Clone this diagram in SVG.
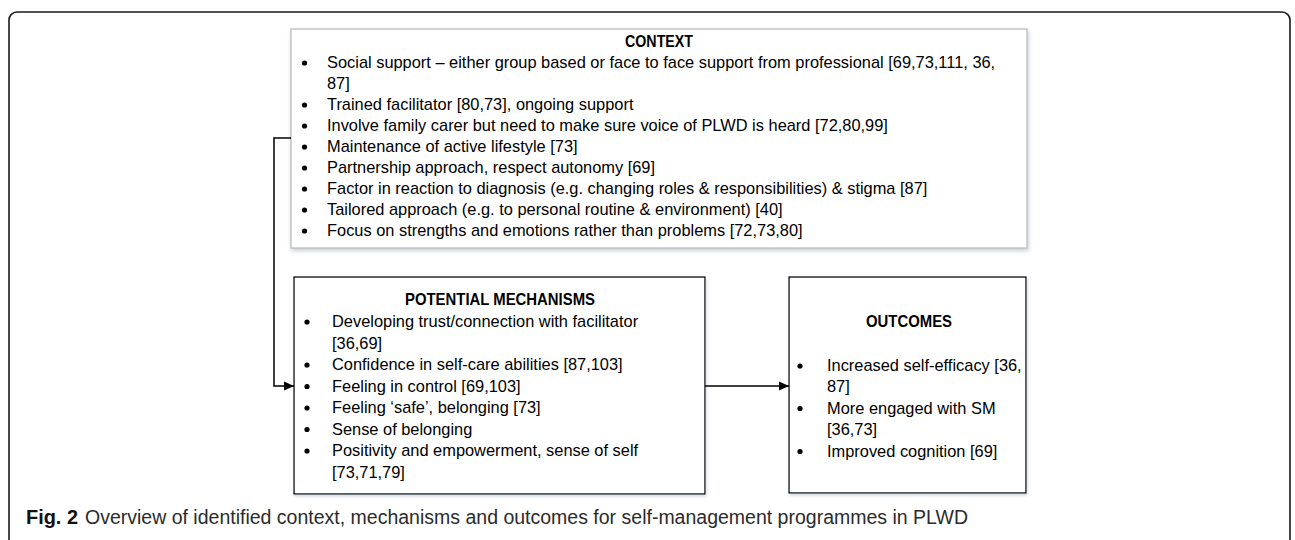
<svg xmlns="http://www.w3.org/2000/svg" width="1295" height="540" viewBox="0 0 1295 540">
  <style>
    .t { font-family: "Liberation Sans", Arial, sans-serif; font-size: 16.4px; fill: #000; }
    .h { font-family: "Liberation Sans", Arial, sans-serif; font-size: 16.4px; font-weight: bold; fill: #000; }
    .cap { font-family: "Liberation Sans", Arial, sans-serif; font-size: 19.5px; fill: #2b2b2b; }
    .capb { font-family: "Liberation Sans", Arial, sans-serif; font-size: 19.5px; font-weight: bold; fill: #111; }
    .box { fill: #fff; stroke: #000; stroke-width: 1.3; filter: url(#sh); }
    .ctx { fill: #fff; stroke: #bdbdbd; stroke-width: 1.3; filter: url(#sh2); }
    .b { fill: #000; }
    .conn { fill: none; stroke: #000; stroke-width: 1.5; }
  </style>
  <defs>
    <filter id="sh" x="-5%" y="-5%" width="112%" height="115%">
      <feDropShadow dx="1" dy="2" stdDeviation="1.5" flood-color="#a9b8cc" flood-opacity="0.5"/>
    </filter>
    <filter id="sh2" x="-5%" y="-5%" width="112%" height="115%">
      <feDropShadow dx="1" dy="2" stdDeviation="2" flood-color="#9aa8bb" flood-opacity="0.6"/>
    </filter>
    <marker id="arr" viewBox="0 0 10 10" refX="10" refY="5" markerWidth="10" markerHeight="10" markerUnits="userSpaceOnUse" orient="auto">
      <path d="M0,0.5 L10,5 L0,9.5 z" fill="#000"/>
    </marker>
  </defs>

  <rect x="9" y="12" width="1281" height="560" rx="8" ry="8" fill="#fff" stroke="#1a1a1a" stroke-width="1.6"/>

  <g id="context">
    <rect class="ctx" x="291" y="29" width="736" height="219"/>
    <text class="h" x="659" y="47" text-anchor="middle" textLength="68" lengthAdjust="spacingAndGlyphs">CONTEXT</text>
    <circle class="b" cx="304.5" cy="63" r="2.6"/>
    <text class="t" x="327" y="68">Social support – either group based or face to face support from professional [69,73,111, 36,</text>
    <text class="t" x="327" y="89">87]</text>
    <circle class="b" cx="304.5" cy="105" r="2.6"/>
    <text class="t" x="327" y="110">Trained facilitator [80,73], ongoing support</text>
    <circle class="b" cx="304.5" cy="126" r="2.6"/>
    <text class="t" x="327" y="131">Involve family carer but need to make sure voice of PLWD is heard [72,80,99]</text>
    <circle class="b" cx="304.5" cy="147" r="2.6"/>
    <text class="t" x="327" y="152">Maintenance of active lifestyle [73]</text>
    <circle class="b" cx="304.5" cy="168" r="2.6"/>
    <text class="t" x="327" y="173">Partnership approach, respect autonomy [69]</text>
    <circle class="b" cx="304.5" cy="189" r="2.6"/>
    <text class="t" x="327" y="194">Factor in reaction to diagnosis (e.g. changing roles &amp; responsibilities) &amp; stigma [87]</text>
    <circle class="b" cx="304.5" cy="210" r="2.6"/>
    <text class="t" x="327" y="215">Tailored approach (e.g. to personal routine &amp; environment) [40]</text>
    <circle class="b" cx="304.5" cy="231" r="2.6"/>
    <text class="t" x="327" y="236">Focus on strengths and emotions rather than problems [72,73,80]</text>
  </g>

  <g id="mechanisms">
    <rect class="box" x="294" y="277" width="411" height="217"/>
    <text class="h" x="500" y="305" text-anchor="middle" textLength="190" lengthAdjust="spacingAndGlyphs">POTENTIAL MECHANISMS</text>
    <circle class="b" cx="307" cy="322" r="2.6"/>
    <text class="t" x="332" y="327">Developing trust/connection with facilitator</text>
    <text class="t" x="332" y="348.5">[36,69]</text>
    <circle class="b" cx="307" cy="365" r="2.6"/>
    <text class="t" x="332" y="370">Confidence in self-care abilities [87,103]</text>
    <circle class="b" cx="307" cy="386.5" r="2.6"/>
    <text class="t" x="332" y="391.5">Feeling in control [69,103]</text>
    <circle class="b" cx="307" cy="408" r="2.6"/>
    <text class="t" x="332" y="413">Feeling ‘safe’, belonging [73]</text>
    <circle class="b" cx="307" cy="429.5" r="2.6"/>
    <text class="t" x="332" y="434.5">Sense of belonging</text>
    <circle class="b" cx="307" cy="451" r="2.6"/>
    <text class="t" x="332" y="456">Positivity and empowerment, sense of self</text>
    <text class="t" x="332" y="477.5">[73,71,79]</text>
  </g>

  <g id="outcomes">
    <rect class="box" x="789" y="277" width="237" height="216"/>
    <text class="h" x="909" y="327" text-anchor="middle" textLength="86" lengthAdjust="spacingAndGlyphs">OUTCOMES</text>
    <circle class="b" cx="800" cy="366" r="2.6"/>
    <text class="t" x="827" y="371">Increased self-efficacy [36,</text>
    <text class="t" x="827" y="392">87]</text>
    <circle class="b" cx="800" cy="408.5" r="2.6"/>
    <text class="t" x="827" y="413.5">More engaged with SM</text>
    <text class="t" x="827" y="435">[36,73]</text>
    <circle class="b" cx="800" cy="451.5" r="2.6"/>
    <text class="t" x="827" y="456.5">Improved cognition [69]</text>
  </g>

  <g id="connectors">
    <path class="conn" d="M291,138 H274 V386 H294" marker-end="url(#arr)"/>
    <path class="conn" d="M705,386 H789" marker-end="url(#arr)"/>
  </g>

  <g id="caption">
    <text class="capb" x="26" y="524" textLength="52" lengthAdjust="spacingAndGlyphs">Fig. 2</text>
    <text class="cap" x="85" y="524" textLength="883" lengthAdjust="spacingAndGlyphs">Overview of identified context, mechanisms and outcomes for self-management programmes in PLWD</text>
  </g>
</svg>
